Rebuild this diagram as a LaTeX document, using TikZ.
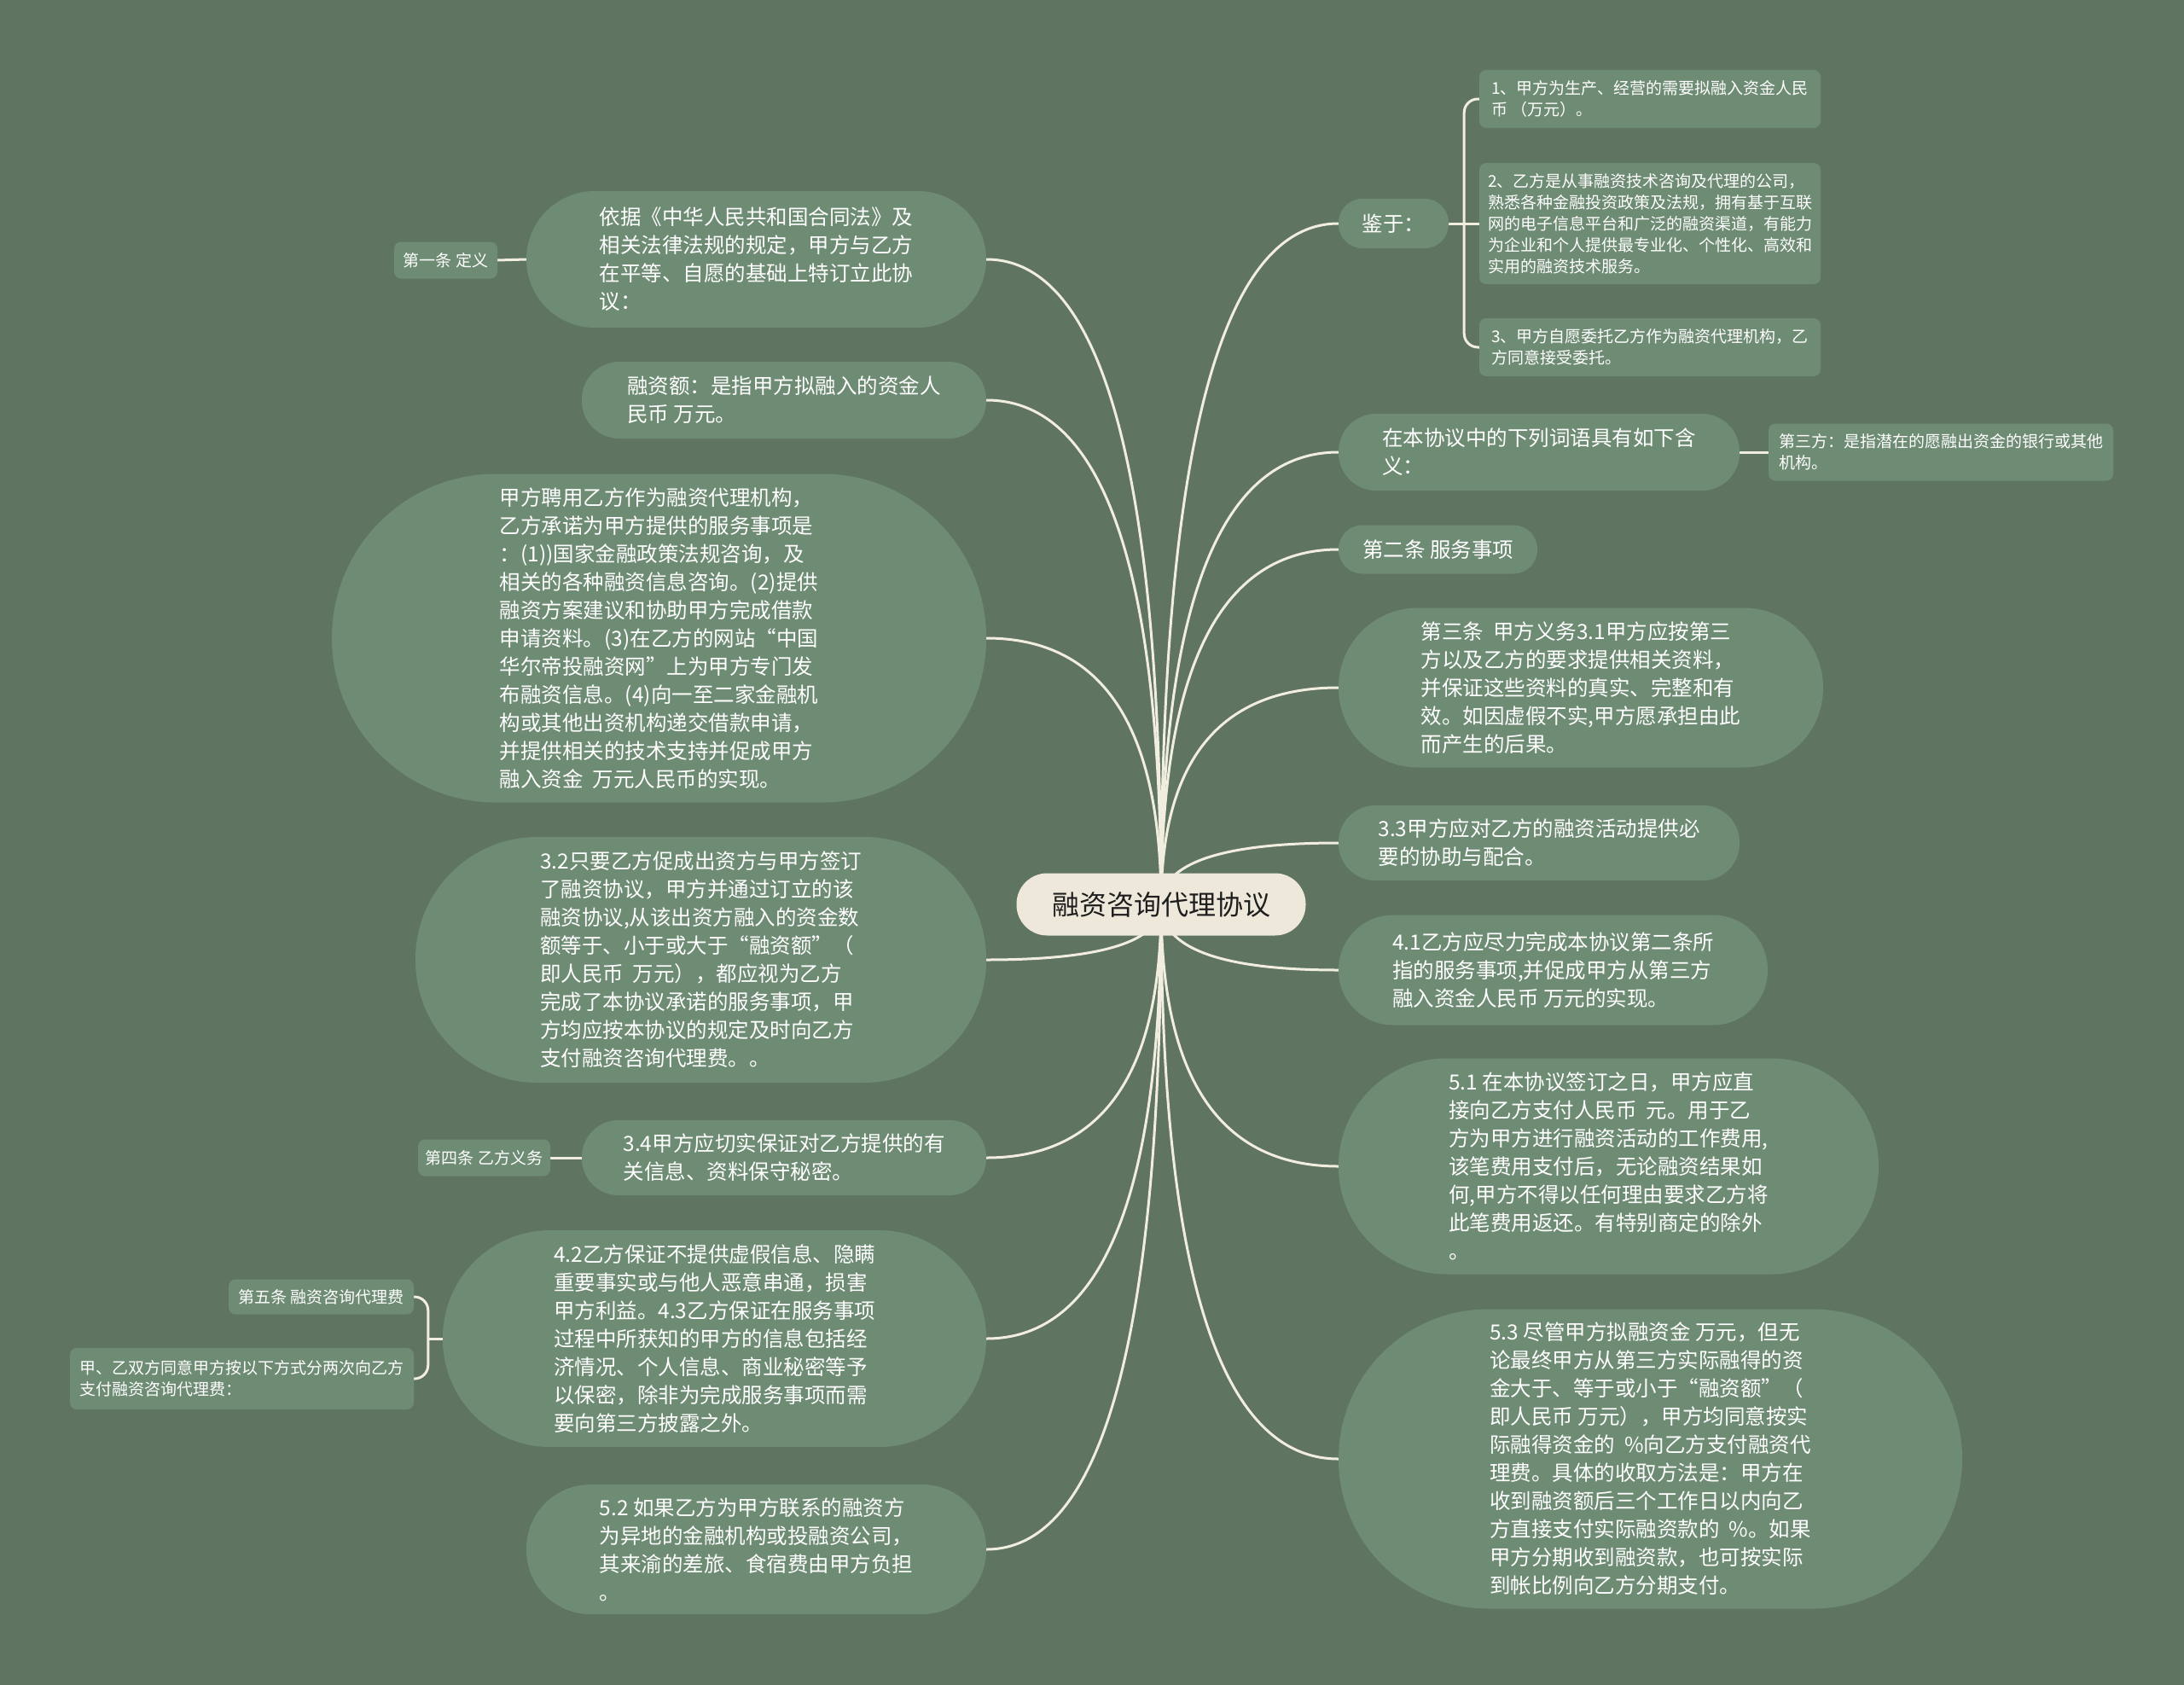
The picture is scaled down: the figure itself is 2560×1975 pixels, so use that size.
\documentclass[tikz,border=0pt]{standalone}
\usepackage{fontspec}
\setmainfont{Noto Sans CJK SC}
\usetikzlibrary{calc}
\definecolor{bgc}{HTML}{607462}
\definecolor{nodec}{HTML}{6E8B74}
\definecolor{linec}{HTML}{F2EEDF}
\definecolor{cenc}{HTML}{EDE8DA}
\definecolor{centext}{HTML}{1E1E1E}
\pgfdeclarelayer{bglayer}
\pgfdeclarelayer{linelayer}
\pgfsetlayers{bglayer,linelayer,main}
\newcommand\bigf{\fontsize{24.5}{33}\selectfont}
\newcommand\smallf{\fontsize{19}{25}\selectfont}
\newcommand\cenf{\fontsize{32}{40}\selectfont}
\tikzset{
  topic/.style={fill=nodec, text=white, font=\bigf, align=left, inner sep=0pt},
  leaf/.style={fill=nodec, text=white, font=\smallf, align=left, inner sep=0pt, rounded corners=8pt},
  central/.style={fill=cenc, text=centext, font=\cenf, inner sep=0pt},
  conn/.style={draw=linec, line width=3pt},
}
\newcommand\rconn[1]{%
  \coordinate (k#1) at (c.center |- #1.west);
  \draw[conn] (c.center) .. controls ($(c.center)!0.6667!(k#1)$) and ($(#1.west)!0.6667!(k#1)$) .. (#1.west);}
\newcommand\lconn[1]{%
  \coordinate (k#1) at (c.center |- #1.east);
  \draw[conn] (c.center) .. controls ($(c.center)!0.6667!(k#1)$) and ($(#1.east)!0.6667!(k#1)$) .. (#1.east);}
\begin{document}
\begin{tikzpicture}[x=1pt,y=-1pt]
\useasboundingbox (0,0) rectangle (2560,1975);
\begin{pgfonlayer}{bglayer}
\fill[bgc] (0,0) rectangle (2560,1975);
\end{pgfonlayer}

% central
\node[central, minimum width=339pt, minimum height=73pt, rounded corners=36pt] (c) at (1361,1060) {融资咨询代理协议};

% right side
\node[topic, minimum width=129pt, minimum height=58pt, rounded corners=28pt] (r1) at (1633.5,262) {鉴于：};
\node[leaf, minimum width=400pt, minimum height=68pt] (s1) at (1934,116) {1、甲方为生产、经营的需要拟融入资金人民\\币 （万元）。};
\node[leaf, minimum width=400pt, minimum height=142pt] (s2) at (1934,262) {2、乙方是从事融资技术咨询及代理的公司，\\熟悉各种金融投资政策及法规，拥有基于互联\\网的电子信息平台和广泛的融资渠道，有能力\\为企业和个人提供最专业化、个性化、高效和\\实用的融资技术服务。};
\node[leaf, minimum width=400pt, minimum height=68pt] (s3) at (1934,407) {3、甲方自愿委托乙方作为融资代理机构，乙\\方同意接受委托。};
\node[topic, minimum width=470pt, minimum height=90pt, rounded corners=44pt] (r2) at (1804,530) {在本协议中的下列词语具有如下含\\义：};
\node[leaf, minimum width=404pt, minimum height=67pt] (s4) at (2275,530) {第三方：是指潜在的愿融出资金的银行或其他\\机构。};
\node[topic, minimum width=233pt, minimum height=57pt, rounded corners=28pt] (r3) at (1685.5,644) {第二条 服务事项};
\node[topic, minimum width=568pt, minimum height=187pt, rounded corners=93pt] (r4) at (1853,806) {第三条~~甲方义务3.1甲方应按第三\\方以及乙方的要求提供相关资料，\\并保证这些资料的真实、完整和有\\效。如因虚假不实,甲方愿承担由此\\而产生的后果。};
\node[topic, minimum width=470pt, minimum height=88pt, rounded corners=43pt] (r5) at (1804,988) {3.3甲方应对乙方的融资活动提供必\\要的协助与配合。};
\node[topic, minimum width=503pt, minimum height=129pt, rounded corners=64pt] (r6) at (1820.5,1137) {4.1乙方应尽力完成本协议第二条所\\指的服务事项,并促成甲方从第三方\\融入资金人民币 万元的实现。};
\node[topic, minimum width=633pt, minimum height=253pt, rounded corners=126pt] (r7) at (1885.5,1367) {5.1 在本协议签订之日，甲方应直\\接向乙方支付人民币~~元。用于乙\\方为甲方进行融资活动的工作费用,\\该笔费用支付后，无论融资结果如\\何,甲方不得以任何理由要求乙方将\\此笔费用返还。有特别商定的除外\\。};
\node[topic, minimum width=731pt, minimum height=351pt, rounded corners=175pt] (r8) at (1934.5,1710) {5.3 尽管甲方拟融资金 万元，但无\\论最终甲方从第三方实际融得的资\\金大于、等于或小于“融资额”（\\即人民币 万元），甲方均同意按实\\际融得资金的~~\%向乙方支付融资代\\理费。具体的收取方法是：甲方在\\收到融资额后三个工作日以内向乙\\方直接支付实际融资款的~~\%。如果\\甲方分期收到融资款，也可按实际\\到帐比例向乙方分期支付。};

% left side
\node[topic, minimum width=539pt, minimum height=160pt, rounded corners=80pt] (l1) at (886.5,304) {依据《中华人民共和国合同法》及\\相关法律法规的规定，甲方与乙方\\在平等、自愿的基础上特订立此协\\议：};
\node[leaf, minimum width=121pt, minimum height=43pt] (c1) at (522.5,305) {第一条 定义};
\node[topic, minimum width=474pt, minimum height=90pt, rounded corners=44pt] (l2) at (919,469) {融资额：是指甲方拟融入的资金人\\民币 万元。};
\node[topic, minimum width=767pt, minimum height=385pt, rounded corners=192pt] (l3) at (772.5,748) {甲方聘用乙方作为融资代理机构，\\乙方承诺为甲方提供的服务事项是\\：(1))国家金融政策法规咨询，及\\相关的各种融资信息咨询。(2)提供\\融资方案建议和协助甲方完成借款\\申请资料。(3)在乙方的网站“中国\\华尔帝投融资网”上为甲方专门发\\布融资信息。(4)向一至二家金融机\\构或其他出资机构递交借款申请，\\并提供相关的技术支持并促成甲方\\融入资金~~万元人民币的实现。};
\node[topic, minimum width=669pt, minimum height=288pt, rounded corners=143pt] (l4) at (821.5,1125) {3.2只要乙方促成出资方与甲方签订\\了融资协议，甲方并通过订立的该\\融资协议,从该出资方融入的资金数\\额等于、小于或大于“融资额”（\\即人民币~~万元），都应视为乙方\\完成了本协议承诺的服务事项，甲\\方均应按本协议的规定及时向乙方\\支付融资咨询代理费。。};
\node[topic, minimum width=474pt, minimum height=88pt, rounded corners=43pt] (l5) at (919,1357) {3.4甲方应切实保证对乙方提供的有\\关信息、资料保守秘密。};
\node[leaf, minimum width=155pt, minimum height=43pt] (c4) at (567.5,1357) {第四条 乙方义务};
\node[topic, minimum width=637pt, minimum height=254pt, rounded corners=126pt] (l6) at (837.5,1569) {4.2乙方保证不提供虚假信息、隐瞒\\重要事实或与他人恶意串通，损害\\甲方利益。4.3乙方保证在服务事项\\过程中所获知的甲方的信息包括经\\济情况、个人信息、商业秘密等予\\以保密，除非为完成服务事项而需\\要向第三方披露之外。};
\node[leaf, minimum width=217pt, minimum height=41pt] (c5a) at (376.5,1520) {第五条 融资咨询代理费};
\node[leaf, minimum width=403pt, minimum height=72pt] (c5b) at (283.5,1616) {甲、乙双方同意甲方按以下方式分两次向乙方\\支付融资咨询代理费：};
\node[topic, minimum width=539pt, minimum height=152pt, rounded corners=75pt] (l7) at (886.5,1816) {5.2 如果乙方为甲方联系的融资方\\为异地的金融机构或投融资公司，\\其来渝的差旅、食宿费由甲方负担\\。};

\begin{pgfonlayer}{linelayer}
\rconn{r1}\rconn{r2}\rconn{r3}\rconn{r4}\rconn{r5}\rconn{r6}\rconn{r7}\rconn{r8}
\lconn{l1}\lconn{l2}\lconn{l3}\lconn{l4}\lconn{l5}\lconn{l6}\lconn{l7}
% brace for 鉴于
\coordinate (jb) at ($(r1.east)+(18,0)$);
\draw[conn] (r1.east) -- (jb) -- (s2.west);
\draw[conn, rounded corners=16pt] (jb) |- (s1.west);
\draw[conn, rounded corners=16pt] (jb) |- (s3.west);
% straight links
\draw[conn] (r2.east) -- (s4.west);
\draw[conn] (l1.west) -- (c1.east);
\draw[conn] (l5.west) -- (c4.east);
% brace for 4.2
\coordinate (fb) at ($(l6.west)+(-17,0)$);
\draw[conn] (l6.west) -- (fb);
\draw[conn, rounded corners=16pt] (fb) |- (c5a.east);
\draw[conn, rounded corners=16pt] (fb) |- (c5b.east);
\end{pgfonlayer}
\end{tikzpicture}
\end{document}
